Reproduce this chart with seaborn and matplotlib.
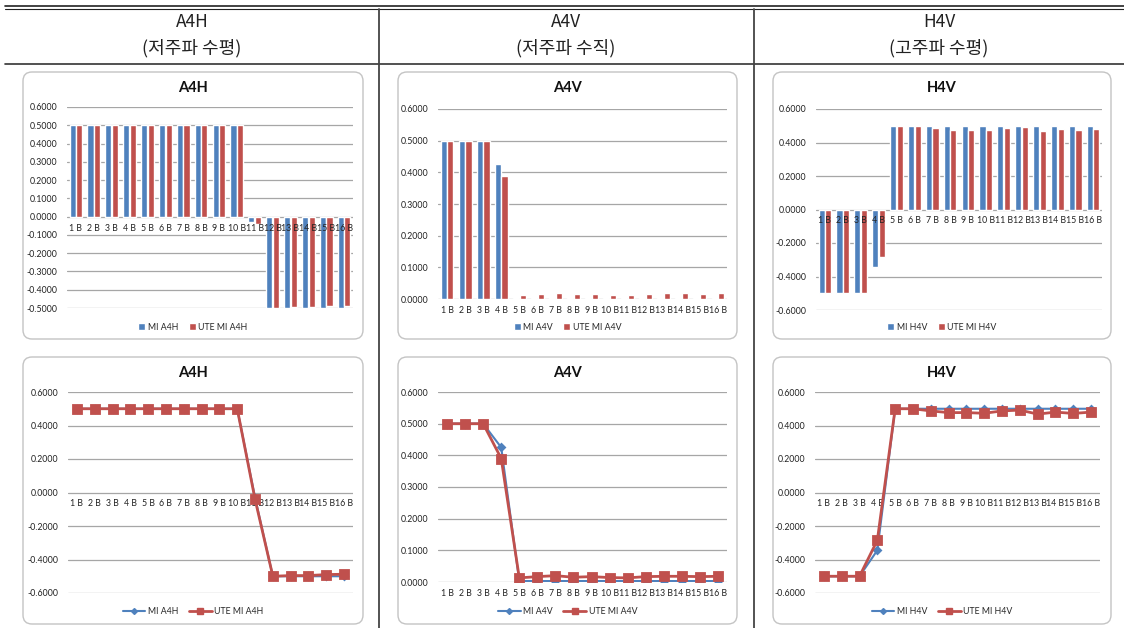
import numpy as np
import pandas as pd
import seaborn as sns
import matplotlib.pyplot as plt
from matplotlib.patches import FancyBboxPatch, Patch
from matplotlib.lines import Line2D

W, H = 1124, 628
BLUE = "#4F81BD"
RED = "#C0504D"

# data
categories = ["1 B", "2 B", "3 B", "4 B", "5 B", "6 B", "7 B", "8 B",
              "9 B", "10 B", "11 B", "12 B", "13 B", "14 B", "15 B", "16 B"]

mi_a4h = [0.500, 0.500, 0.500, 0.500, 0.500, 0.500, 0.500, 0.500,
          0.500, 0.500, -0.030, -0.500, -0.500, -0.500, -0.500, -0.500]
ute_a4h = [0.500, 0.500, 0.500, 0.500, 0.500, 0.500, 0.500, 0.500,
           0.500, 0.500, -0.040, -0.500, -0.496, -0.496, -0.490, -0.488]

mi_a4v = [0.500, 0.500, 0.500, 0.425, 0.003, 0.003, 0.003, 0.003,
          0.003, 0.003, 0.003, 0.003, 0.003, 0.003, 0.003, 0.003]
ute_a4v = [0.500, 0.500, 0.500, 0.390, 0.013, 0.017, 0.020, 0.015,
           0.017, 0.014, 0.013, 0.017, 0.018, 0.018, 0.017, 0.018]

mi_h4v = [-0.500, -0.500, -0.500, -0.345, 0.500, 0.500, 0.500, 0.500,
          0.500, 0.500, 0.500, 0.500, 0.500, 0.500, 0.500, 0.500]
ute_h4v = [-0.500, -0.500, -0.500, -0.285, 0.500, 0.500, 0.487, 0.477,
           0.477, 0.473, 0.487, 0.492, 0.468, 0.480, 0.472, 0.480]

col_titles = ["A4H", "A4V", "H4V"]
col_subtitles = ["(저주파 수평)", "(저주파 수직)", "(고주파 수평)"]

sns.set_style("white")
plt.rcParams["font.family"] = ["Lato", "Noto Sans CJK KR", "DejaVu Sans"]

fig = plt.figure(figsize=(W / 100, H / 100), dpi=100)

# background layer in pixel coordinates for table lines and chart boxes
bg = fig.add_axes([0, 0, 1, 1], zorder=0)
bg.set_xlim(0, W)
bg.set_ylim(H, 0)
bg.axis("off")

bg.plot([5, W], [6, 6], color="#222222", lw=1.2)
bg.plot([5, W], [9, 9], color="#222222", lw=0.8)
bg.plot([5, W], [64, 64], color="#333333", lw=1.2)
for xd in (379, 754):
    bg.plot([xd, xd], [9, H], color="#444444", lw=1.3)

col_centers = [192, 566, 939]
for cx, t, s in zip(col_centers, col_titles, col_subtitles):
    fig.text(cx / W, 1 - 22 / H, t, ha="center", va="center", fontsize=12.5,
             family=["Noto Sans CJK KR", "DejaVu Sans"], color="#222222")
    fig.text(cx / W, 1 - 48 / H, s, ha="center", va="center", fontsize=13,
             family=["Noto Sans CJK KR", "DejaVu Sans"], color="#222222")

boxes_x = [(23, 363), (398, 737), (773, 1111)]
boxes_y = [(72, 339), (357, 624)]
for (y0, y1) in boxes_y:
    for (x0, x1) in boxes_x:
        bg.add_patch(FancyBboxPatch((x0, y0), x1 - x0, y1 - y0,
                                    boxstyle="round,pad=0,rounding_size=9",
                                    fc="white", ec="#c4c4c4", lw=1.0))


def px_rect(x0, y0, x1, y1):
    return [x0 / W, 1 - y1 / H, (x1 - x0) / W, (y1 - y0) / H]


def style_axes(ax, ylo, yhi, step, zero_axis, labels_on_top=False):
    ax.set_xlim(-0.5, 15.5)
    ax.set_ylim(ylo, yhi)
    ticks = np.round(np.arange(ylo, yhi + step / 2, step), 4) + 0.0
    ax.set_yticks(ticks)
    ax.set_yticklabels([f"{t:.4f}".replace("-0.0000", "0.0000") for t in ticks])
    ax.yaxis.grid(True, color="#a6a6a6", lw=0.9)
    ax.set_axisbelow(True)
    if labels_on_top:
        # category labels sit over the bars, as in the spreadsheet chart
        ax.xaxis.set_zorder(5)
    for sp in ax.spines.values():
        sp.set_color("none")
    if zero_axis:
        ax.spines["bottom"].set_position(("data", 0))
    ax.tick_params(axis="both", length=0, labelsize=6.3, colors="#222222")
    ax.tick_params(axis="y", pad=7)
    ax.tick_params(axis="x", pad=5)
    ax.set_xlabel("")
    ax.set_ylabel("")
    ax.patch.set_alpha(0)


def long_frame(name, mi, ute):
    return pd.DataFrame({
        "band": categories + categories,
        "value": mi + ute,
        "series": [f"MI {name}"] * len(mi) + [f"UTE MI {name}"] * len(ute),
    })


def add_title_legend(box_x, box_y, name, kind):
    cx = (box_x[0] + box_x[1]) / 2
    fig.text(cx / W, 1 - (box_y[0] + 16) / H, name, ha="center", va="center",
             fontsize=10.5, weight="bold", color="#111111")
    if kind == "bar":
        handles = [Patch(fc=BLUE), Patch(fc=RED)]
        hl = 0.8
    else:
        handles = [Line2D([], [], color=BLUE, marker="D", ms=3, lw=1.5),
                   Line2D([], [], color=RED, marker="s", ms=5, lw=2)]
        hl = 2.6
    fig.legend(handles, [f"MI {name}", f"UTE MI {name}"], loc="center",
               bbox_to_anchor=(cx / W, 1 - (box_y[1] - 12) / H), ncol=2,
               frameon=False, fontsize=6.3, handlelength=hl, handleheight=0.8,
               handletextpad=0.3, columnspacing=1.2)


panels = [
    ("A4H", mi_a4h, ute_a4h),
    ("A4V", mi_a4v, ute_a4v),
    ("H4V", mi_h4v, ute_h4v),
]
bar_areas = [(67, 107, 353, 308), (438, 109, 727, 299), (816, 109, 1102, 310)]
bar_limits = [(-0.5, 0.6, 0.1, True), (0.0, 0.6, 0.1, False), (-0.6, 0.6, 0.2, True)]
line_areas = [(68, 392, 353, 593), (438, 392, 727, 582), (815, 392, 1100, 593)]
line_limits = [(-0.6, 0.6, 0.2, True), (0.0, 0.6, 0.1, False), (-0.6, 0.6, 0.2, True)]

for i, (name, mi, ute) in enumerate(panels):
    df = long_frame(name, mi, ute)

    # bar chart (top row)
    ax = fig.add_axes(px_rect(*bar_areas[i]), zorder=2)
    sns.barplot(data=df, x="band", y="value", hue="series", palette=[BLUE, RED],
                saturation=1, width=0.74, gap=0.08, legend=False, ax=ax)
    style_axes(ax, *bar_limits[i], labels_on_top=True)
    add_title_legend(boxes_x[i], boxes_y[0], name, "bar")

    # line chart (bottom row)
    ax = fig.add_axes(px_rect(*line_areas[i]), zorder=2)
    sns.pointplot(data=df, x="band", y="value", hue="series", palette=[BLUE, RED],
                  markers=["D", "s"], linestyles=["-", "-"], errorbar=None,
                  legend=False, ax=ax)
    for ln, ms, lw in zip(ax.lines, [3, 5.5], [1.5, 2.0]):
        ln.set_markersize(ms)
        ln.set_linewidth(lw)
    style_axes(ax, *line_limits[i])
    add_title_legend(boxes_x[i], boxes_y[1], name, "line")

fig.savefig("out.png", dpi=100)
